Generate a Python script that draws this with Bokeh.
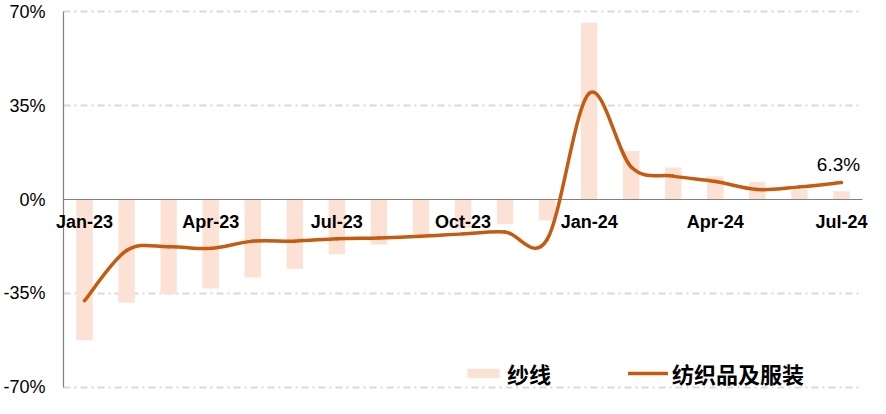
import numpy as np
from bokeh.plotting import figure
from bokeh.models import (Range1d, Legend, LegendItem, ColumnDataSource, LabelSet)
from bokeh.core.properties import value
from bokeh.embed import file_html
from bokeh.resources import INLINE

months = ["Jan-23", "Feb-23", "Mar-23", "Apr-23", "May-23", "Jun-23", "Jul-23",
          "Aug-23", "Sep-23", "Oct-23", "Nov-23", "Dec-23", "Jan-24", "Feb-24",
          "Mar-24", "Apr-24", "May-24", "Jun-24", "Jul-24"]
yarn = [-52.4, -38.4, -35.3, -33.1, -29.0, -25.8, -20.4, -16.8, -13.0, -10.7,
        -9.1, -7.7, 65.8, 18.1, 11.9, 8.6, 6.5, 3.7, 3.1]
textile = [-37.7, -19.0, -17.6, -18.2, -15.5, -15.5, -14.6, -14.3, -13.7, -12.8,
           -12.1, -14.9, 39.5, 12.1, 8.7, 6.7, 3.7, 4.7, 6.3]
shown_months = ["Jan-23", "Apr-23", "Jul-23", "Oct-23", "Jan-24", "Apr-24", "Jul-24"]
y_ticks = [-70, -35, 0, 35, 70]
yarn_name = "纱线"
textile_name = "纺织品及服装"

BAR = "#FBE2D5"
LINE = "#C55A11"
GRID = "#D9D9D9"
AXIS = "#808080"
LATIN = "Liberation Sans"
CJK = "Noto Sans CJK SC"

N = len(months)
xs = np.arange(N) + 0.5
ys = np.array(textile, dtype=float)

W, H = 870, 398
# frame fills the whole canvas; ranges padded so that the labels have room
x_lo, x_hi = -1.498, N + 0.19
y_lo, y_hi = -74.1, 74.1

p = figure(width=W, height=H, output_backend="svg", toolbar_location=None,
           x_range=Range1d(x_lo, x_hi), y_range=Range1d(y_lo, y_hi),
           x_axis_location=None, y_axis_location=None,
           min_border=0, outline_line_color=None)
p.xgrid.visible = False
p.ygrid.visible = False

# dashed gridlines across the plot area (zero is the axis line)
g_ticks = [t for t in y_ticks if t != 0]
p.segment(x0=[0] * len(g_ticks), x1=[N] * len(g_ticks), y0=g_ticks, y1=g_ticks,
          line_color=GRID, line_width=2, line_dash="7 4 2 4")

# bars
bars = p.vbar(x=xs, top=yarn, bottom=0, width=0.39, fill_color=BAR, line_color=None)

# axis lines
p.segment(x0=[0], x1=[N], y0=[0], y1=[0], line_color=AXIS, line_width=1.2)
p.segment(x0=[0], x1=[0], y0=[y_ticks[0]], y1=[y_ticks[-1]], line_color=AXIS, line_width=1.2)

# y tick labels
ysrc = ColumnDataSource(dict(x=[0] * len(y_ticks), y=y_ticks, t=[f"{t}%" for t in y_ticks]))
p.add_layout(LabelSet(x="x", y="y", text="t", source=ysrc, x_offset=-18,
                      text_align="right", text_baseline="middle",
                      text_font=value(LATIN), text_font_size="18px", text_color="#000000"))

# month labels along the zero line
tick_pos = [float(xs[months.index(m)]) for m in shown_months]
lab_src = ColumnDataSource(dict(x=tick_pos, y=[0] * len(tick_pos), t=shown_months))
p.add_layout(LabelSet(x="x", y="y", text="t", source=lab_src, y_offset=-22,
                      text_align="center", text_baseline="middle",
                      text_font=value(LATIN), text_font_style="bold",
                      text_font_size="18px", text_color="#000000"))

# smoothed line (Catmull-Rom -> cubic Bezier)
n = N
px = np.concatenate([[xs[0]], xs, [xs[-1]]])
py = np.concatenate([[ys[0]], ys, [ys[-1]]])
x0, y0 = xs[:-1], ys[:-1]
x1, y1 = xs[1:], ys[1:]
cx0 = x0 + (px[2:n + 1] - px[0:n - 1]) / 6.0
cy0 = y0 + (py[2:n + 1] - py[0:n - 1]) / 6.0
cx1 = x1 - (px[3:n + 2] - px[1:n]) / 6.0
cy1 = y1 - (py[3:n + 2] - py[1:n]) / 6.0
src = ColumnDataSource(dict(x0=x0, y0=y0, x1=x1, y1=y1, cx0=cx0, cy0=cy0, cx1=cx1, cy1=cy1))
curve = p.bezier(x0="x0", y0="y0", x1="x1", y1="y1", cx0="cx0", cy0="cy0",
                 cx1="cx1", cy1="cy1", source=src, line_color=LINE, line_width=3.5,
                 line_cap="round")

# data label for last point
p.add_layout(LabelSet(x="x", y="y", text="t",
                      source=ColumnDataSource(dict(x=[xs[-1]], y=[ys[-1]], t=[f"{textile[-1]}%"])),
                      text_align="center", text_baseline="bottom", y_offset=8, x_offset=-3,
                      text_font=value(LATIN), text_font_size="19px", text_color="#000000"))

legend = Legend(items=[LegendItem(label=yarn_name, renderers=[bars]),
                       LegendItem(label=textile_name, renderers=[curve])],
                orientation="horizontal", location=(463, 9),
                glyph_width=40, glyph_height=12, label_standoff=4, spacing=77,
                padding=0, margin=0, border_line_color=None,
                background_fill_alpha=0,
                label_text_font=CJK, label_text_font_style="bold",
                label_text_font_size="22px", label_text_color="#000000")
p.add_layout(legend, "center")

open("out.html", "w").write(file_html(p, INLINE))
